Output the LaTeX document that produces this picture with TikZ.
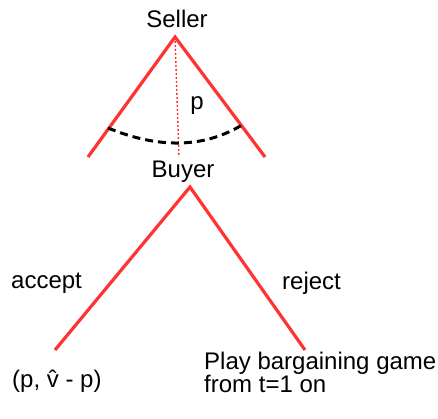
\documentclass[tikz,border=0pt]{standalone}
\usepackage{fontspec}
\setmainfont{Liberation Sans}
\definecolor{branchred}{RGB}{255,51,51}
\tikzset{
  branch/.style={draw=branchred, line width=3.2pt},
  guide/.style={draw=branchred, line width=1.4pt, dash pattern=on 2pt off 2pt},
  infoset/.style={draw=black, line width=3pt, dash pattern=on 8pt off 5pt},
  lbl/.style={inner sep=0pt, font=\fontsize{24}{23}\selectfont},
}
\begin{document}
\begin{tikzpicture}[x=1pt,y=-1pt]
\useasboundingbox (0,0) rectangle (438,419);
% seller
\coordinate (sapex) at (175,37);
\coordinate (sl) at (88,157);
\coordinate (sr) at (265,157);
\coordinate (smid) at (179,157);
\coordinate (al) at (108,128);
\coordinate (ar) at (242,125);
\node[lbl, anchor=base] (seller) at (177,28) {Seller};
\draw[branch] (sl) -- (sapex) -- (sr);
\draw[guide] (sapex) -- (smid);
\draw[infoset] (al) .. controls (159,149) and (204,148) .. (ar);
\node[lbl, anchor=base] (p) at (197,110) {p};
% buyer
\node[lbl, anchor=base] (buyer) at (183,178) {Buyer};
\coordinate (bapex) at (190,187);
\coordinate (bl) at (55,350);
\coordinate (br) at (305,350);
\draw[branch] (bl) -- (bapex) -- (br);
\node[lbl, anchor=base west] (accept) at (11,288) {accept};
\node[lbl, anchor=base west] (reject) at (282,289) {reject};
\node[lbl, anchor=base west] (payoff) at (12,387) {(p, \^{v} - p)};
\node[lbl, anchor=base west, align=left] (play) at (204,392) {Play bargaining game\\from t=1 on};
\end{tikzpicture}
\end{document}
